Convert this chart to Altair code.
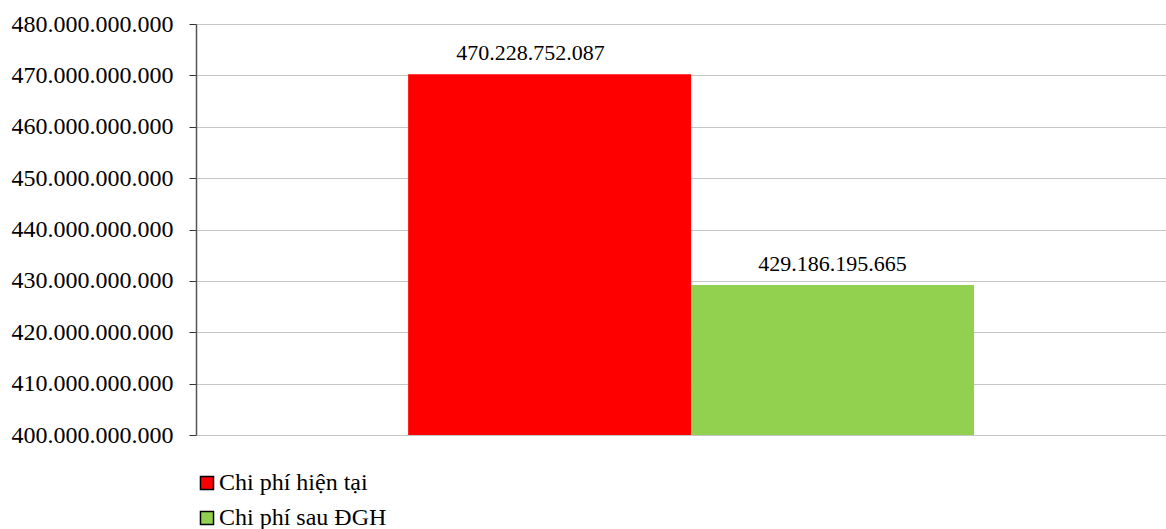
import altair as alt
import pandas as pd

series = ["Chi phí hiện tại", "Chi phí sau ĐGH"]
values = [470228752087, 429186195665]
colors = ["#FF0000", "#92D050"]
y_ticks = [400000000000, 410000000000, 420000000000, 430000000000,
           440000000000, 450000000000, 460000000000, 470000000000, 480000000000]

df = pd.DataFrame({"group": ["A", "A"], "series": series, "value": values})

FONT = "'Times New Roman', 'Liberation Serif', serif"
fmt = "replace(format(datum.value, ','), regexp(',', 'g'), '.')"

base = alt.Chart(df).encode(
    x=alt.X("group:N", axis=None,
            scale=alt.Scale(paddingInner=0, paddingOuter=0.357, align=0.525)),
    xOffset=alt.XOffset("series:N", sort=series),
)

bars = base.mark_bar().encode(
    y=alt.Y("value:Q",
            scale=alt.Scale(domain=[y_ticks[0], y_ticks[-1]], zero=False, nice=False),
            axis=alt.Axis(values=y_ticks, labelExpr=fmt, title=None,
                          labelFont=FONT, labelFontSize=24, labelColor="black",
                          labelPadding=16, tickSize=7, tickColor="#333333",
                          domainColor="#555555", gridColor="#c6c6c6",
                          gridWidth=1, labelLimit=0)),
    y2=alt.datum(y_ticks[0]),
    color=alt.Color("series:N",
                    scale=alt.Scale(domain=series, range=colors),
                    legend=alt.Legend(title=None, orient="none", legendX=-1, legendY=447,
                                      direction="vertical", symbolType="square",
                                      symbolSize=170, symbolStrokeColor="black",
                                      symbolStrokeWidth=1.5, symbolOpacity=1,
                                      labelFont=FONT, labelFontSize=24,
                                      labelColor="black", labelOffset=0,
                                      rowPadding=11, labelLimit=0)),
)

def label_layer(name, dx):
    return base.mark_text(font=FONT, fontSize=22, color="black",
                          baseline="alphabetic", dy=-14, dx=dx).transform_filter(
        alt.datum.series == name
    ).transform_calculate(label=fmt).encode(
        y=alt.Y("value:Q"),
        text="label:N",
    )

labels_a = label_layer(series[0], -19)
labels_b = label_layer(series[1], 0)

chart = alt.layer(bars, labels_a, labels_b).properties(
    width=970, height=411,
    padding={"left": 196, "top": 24, "right": 0, "bottom": 94},
    autosize=alt.AutoSizeParams(type="none"),
).configure_view(stroke=None).configure_axis(domainWidth=1.5)

chart.save("out.html", embed_options={"renderer": "svg", "actions": False})
